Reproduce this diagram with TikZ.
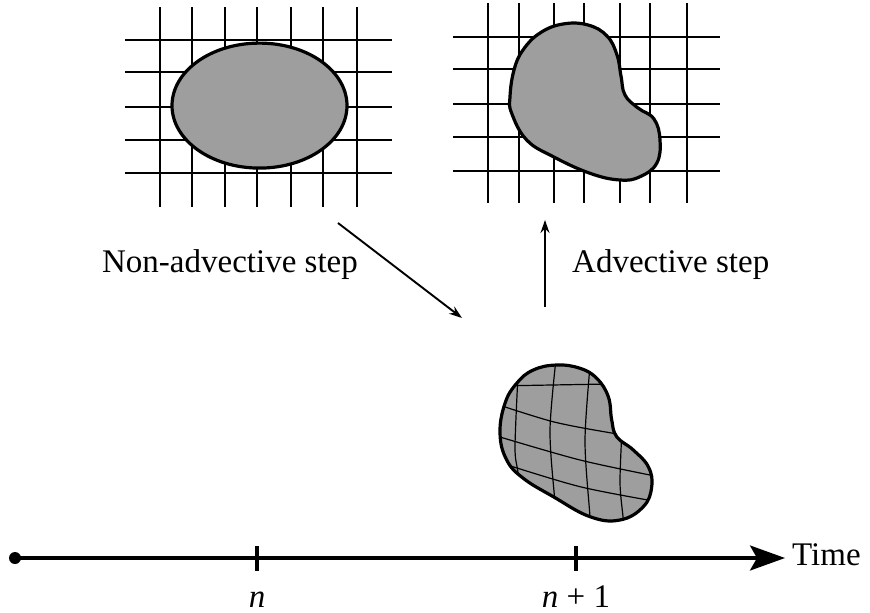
\documentclass[tikz,border=0pt]{standalone}
\usepackage{fontspec}
\setmainfont{Liberation Serif}
\usetikzlibrary{positioning, arrows.meta}

\begin{document}
\begin{tikzpicture}[x=1pt,y=-1pt,
    gridline/.style={line width=1.6pt},
    blob/.style={fill=black!38,draw,line width=3.2pt},
    warpline/.style={line width=1.2pt},
    steparrow/.style={-{Stealth[length=13pt,width=9pt]},line width=1.9pt},
    label/.style={font=\fontsize{33}{40}\selectfont,inner sep=0pt}]
    \useasboundingbox (0,0) rectangle (870,613);
    % grid before the step
    \foreach \x in {160,192,225,257,291,323,357}
        \draw[gridline] (\x,7) -- (\x,207);
    \foreach \y in {40,72,107,140,173}
        \draw[gridline] (125,\y) -- (392,\y);
    \draw[blob] (259.5,105.6) ellipse [x radius=87.5, y radius=62.5];
    % grid after the advective step
    \foreach \x in {488,519,554,584,620,650,687}
        \draw[gridline] (\x,3) -- (\x,203);
    \foreach \y in {37,69,104,137,171}
        \draw[gridline] (453,\y) -- (720,\y);
    \draw[blob] plot[smooth cycle,tension=0.7] coordinates {(523,50) (540,33) (563,24)
        (588,25) (607,36) (617,55) (621,76) (625,95) (638,108) (654,119) (660,140)
        (656.7,163.3) (640,176.7) (620,180) (590,173.3) (553.3,156.7) (526.7,140)
        (511.7,113.3) (510,96.7) (514,70)};
    % Lagrangian blob with its warped grid
    \def\lagblob{plot[smooth cycle,tension=0.7] coordinates {(556.7,365) (580,368.3)
        (596.7,378.3) (608.3,396.7) (611.7,420) (616.7,436.7) (633.3,450) (648.3,466.7)
        (651.7,486.7) (643.3,506.7) (620,520) (590,516.7) (553.3,496.7) (523.3,478.3)
        (506.7,460) (500,433.3) (505,403.3) (516.7,383.3) (533.3,370)}}
    \fill[black!38] \lagblob;
    \begin{scope}
        \clip \lagblob;
        \draw[warpline] plot[smooth] coordinates {(519,355) (515,446.7) (518.3,476.7) (520,540)};
        \draw[warpline] plot[smooth] coordinates {(557,350) (550,430) (555,503) (558,540)};
        \draw[warpline] plot[smooth] coordinates {(591,355) (585,440) (590,517) (591,540)};
        \draw[warpline] plot[smooth] coordinates {(622,430) (620,483) (623.3,520) (624,540)};
        \draw[warpline] (495,386) -- (665,383);
        \draw[warpline] plot[smooth] coordinates {(490,402) (553,421.7) (613.3,433.3) (665,441)};
        \draw[warpline] plot[smooth] coordinates {(490,434) (580,460) (665,478)};
        \draw[warpline] plot[smooth] coordinates {(495,461) (580,486.7) (665,503)};
    \end{scope}
    \draw[line width=3.2pt] \lagblob;
    % step arrows and labels
    \coordinate (nastart) at (338,223);
    \coordinate (naend) at (462,318);
    \coordinate (adstart) at (545,307);
    \coordinate (adend) at (545,220);
    \draw[steparrow] (nastart) -- (naend);
    \draw[steparrow] (adstart) -- (adend);
    \node[label,anchor=base east] (nonadv) at (358,272) {Non-advective step};
    \node[label,anchor=base west] (adv) at (572,272) {Advective step};
    % time axis
    \coordinate (origin) at (15,558);
    \coordinate (tipend) at (785,558);
    \fill (origin) circle (6);
    \draw[line width=3.2pt,-{Stealth[length=35pt,width=25pt,inset=7pt]}] (origin) -- (tipend);
    \draw[line width=3.2pt] (257,546) -- (257,571);
    \draw[line width=3.2pt] (576,546) -- (576,571);
    \node[label,anchor=base west] (time) at (792,565) {Time};
    \node[label,anchor=base] (tn) at (257,607) {\textit{n}};
    \node[label,anchor=base] (tnone) at (576,607) {\textit{n} + 1};
\end{tikzpicture}
\end{document}
